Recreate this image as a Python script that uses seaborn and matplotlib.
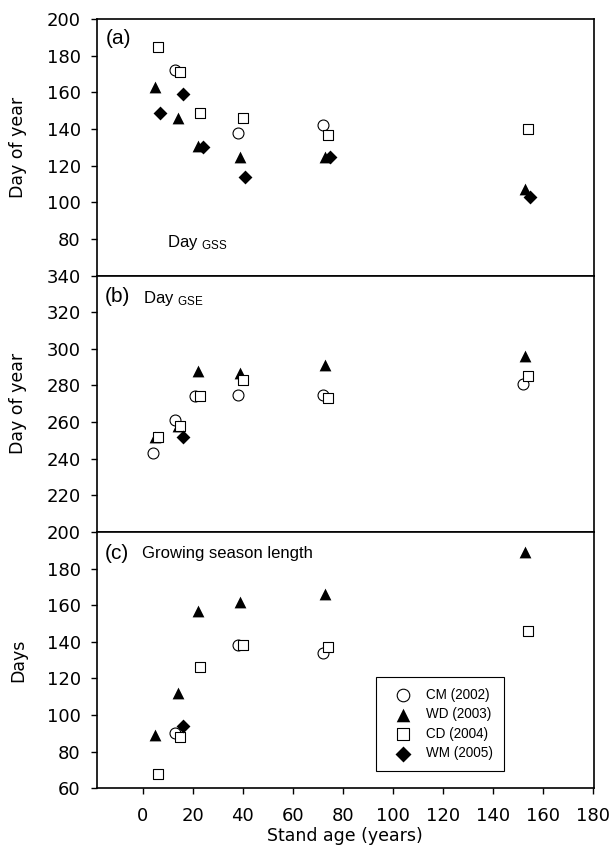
import matplotlib
matplotlib.use("Agg")
import matplotlib.pyplot as plt
import seaborn as sns
import pandas as pd

# Stand ages of the six chronosequence sites in each measurement year
age_cm_2002 = [4, 13, 21, 38, 72, 152]
age_wd_2003 = [5, 14, 22, 39, 73, 153]
age_cd_2004 = [6, 15, 23, 40, 74, 154]
age_wm_2005 = [7, 16, 24, 41, 75, 155]

# (a) Day of growing season start
gss_cm = [None, 172, None, 138, 142, None]
gss_wd = [163, 146, 131, 125, 125, 107]
gss_cd = [185, 171, 149, 146, 137, 140]
gss_wm = [149, 159, 130, 114, 125, 103]

# (b) Day of growing season end
gse_cm = [243, 261, 274, 275, 275, 281]
gse_wd = [252, 258, 288, 287, 291, 296]
gse_cd = [252, 258, 274, 283, 273, 285]
gse_wm = [None, 252, None, None, None, None]

# (c) Growing season length
gsl_cm = [None, 90, None, 138, 134, None]
gsl_wd = [89, 112, 157, 162, 166, 189]
gsl_cd = [68, 88, 126, 138, 137, 146]
gsl_wm = [None, 94, None, None, None, None]

series_labels = ["CM (2002)", "WD (2003)", "CD (2004)", "WM (2005)"]
x_ticks = list(range(0, 181, 20))

sns.set_style("ticks")
plt.rcParams["font.family"] = ["DejaVu Sans"]
plt.rcParams["mathtext.fontset"] = "custom"
plt.rcParams["mathtext.rm"] = "Liberation Sans"
plt.rcParams["mathtext.it"] = "Liberation Sans:italic"
plt.rcParams["mathtext.bf"] = "Liberation Sans:bold"
for key in ["text.color", "axes.labelcolor", "xtick.color", "ytick.color",
            "axes.edgecolor"]:
    plt.rcParams[key] = "black"

ann_font = "Liberation Sans"

# marker style for each series: (marker, size, face, edge, linewidth)
styles = [
    ("o", 62, "white", "black", 0.8),
    ("^", 72, "black", "black", 0.0),
    ("s", 54, "white", "black", 0.8),
    ("D", 50, "black", "black", 0.0),
]
ages = [age_cm_2002, age_wd_2003, age_cd_2004, age_wm_2005]


def frame(values_list):
    rows = []
    for label, a, vals in zip(series_labels, ages, values_list):
        for xv, yv in zip(a, vals):
            if yv is not None:
                rows.append({"series": label, "age": xv, "value": yv})
    return pd.DataFrame(rows)


panels = [
    frame([gss_cm, gss_wd, gss_cd, gss_wm]),
    frame([gse_cm, gse_wd, gse_cd, gse_wm]),
    frame([gsl_cm, gsl_wd, gsl_cd, gsl_wm]),
]

fig = plt.figure(figsize=(6.14, 8.56), dpi=100)
left, width, height = 0.1572, 0.8103, 0.2995
bottoms = [0.6781, 0.3786, 0.0791]
axes = [fig.add_axes([left, b, width, height]) for b in bottoms]

ylims = [(60, 200), (200, 340), (60, 200)]
yticks = [range(80, 201, 20), range(220, 341, 20), range(60, 201, 20)]

for ax, df, yl, yt in zip(axes, panels, ylims, yticks):
    for label, (mk, s, fc, ec, lw) in zip(series_labels, styles):
        sub = df[df["series"] == label]
        if len(sub) == 0:
            continue
        sns.scatterplot(data=sub, x="age", y="value", ax=ax, marker=mk, s=s,
                        facecolor=fc, edgecolor=ec, linewidth=lw,
                        label=label, legend=False, zorder=3)
    ax.set_xlim(-18.5, 180.5)
    ax.set_ylim(*yl)
    ax.set_yticks(list(yt))
    for sp in ax.spines.values():
        sp.set_visible(True)
        sp.set_linewidth(1.2)
        sp.set_color("black")
    ax.tick_params(axis="y", direction="out", length=4.3, width=1.0,
                   pad=7, labelsize=13, colors="black")
    ax.set_xlabel("")
    ax.set_ylabel("")
    if ax.get_legend() is not None:
        ax.get_legend().remove()

for ax in axes[:2]:
    ax.set_xticks([])
    ax.tick_params(axis="x", bottom=False, labelbottom=False)

axc = axes[2]
axc.set_xticks(x_ticks)
axc.tick_params(axis="x", direction="out", length=4.3, width=1.0,
                pad=9, labelsize=13, colors="black")

axes[0].set_ylabel("Day of year", fontsize=12.5)
axes[1].set_ylabel("Day of year", fontsize=12.5)
axes[2].set_ylabel("Days", fontsize=12.5)
for ax in axes:
    ax.yaxis.set_label_coords(-0.140, 0.5)
axc.set_xlabel("Stand age (years)", fontsize=12.5)
axc.xaxis.set_label_coords(0.5, -0.150)

# panel annotations
axes[0].text(0.019, 0.904, "(a)", transform=axes[0].transAxes, fontsize=15,
             family=ann_font, va="baseline", ha="left")
axes[0].text(0.141, 0.111, r"Day $_{\mathrm{GSS}}$", transform=axes[0].transAxes,
             fontsize=12, family=ann_font, va="baseline", ha="left")
axes[1].text(0.017, 0.895, "(b)", transform=axes[1].transAxes, fontsize=15,
             family=ann_font, va="baseline", ha="left")
axes[1].text(0.093, 0.893, r"Day $_{\mathrm{GSE}}$", transform=axes[1].transAxes,
             fontsize=12, family=ann_font, va="baseline", ha="left")
axes[2].text(0.017, 0.895, "(c)", transform=axes[2].transAxes, fontsize=15,
             family=ann_font, va="baseline", ha="left")
axes[2].text(0.091, 0.897, "Growing season length", transform=axes[2].transAxes,
             fontsize=12, family=ann_font, va="baseline", ha="left")

handles, labels = axc.get_legend_handles_labels()
leg = axc.legend(handles, labels, loc="upper left", bbox_to_anchor=(0.5624, 0.434),
                 borderaxespad=0, frameon=True, fancybox=False, framealpha=1,
                 edgecolor="black", prop={"family": ann_font, "size": 9.75},
                 handlelength=2.27, handletextpad=0.59, borderpad=0.8,
                 labelspacing=0.4, scatterpoints=1, markerscale=1.15)
leg.get_frame().set_linewidth(0.8)

fig.savefig("out.png", dpi=100)
